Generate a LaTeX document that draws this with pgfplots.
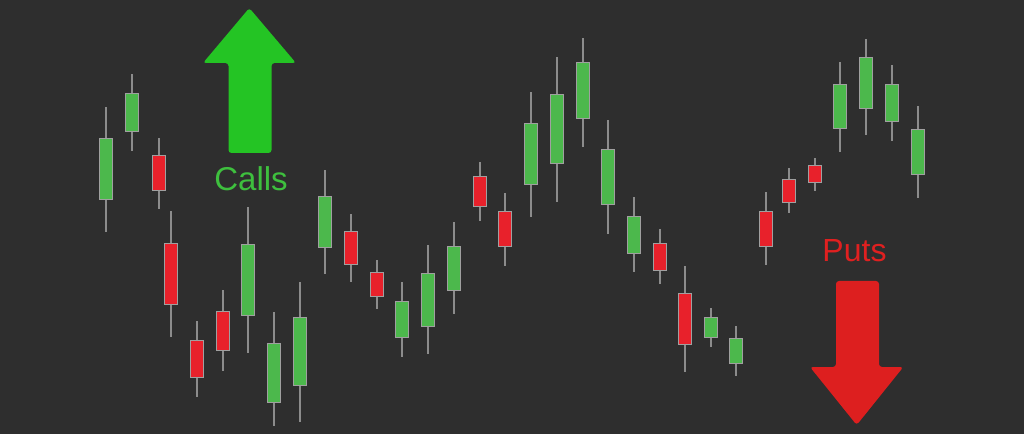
\documentclass[border=0pt]{standalone}
\usepackage{pgfplots}
\usepackage{pgfplotstable}
\pgfplotsset{compat=1.18}
\usepackage{fontspec}
\setmainfont{Liberation Sans}
\definecolor{bg}{HTML}{2E2E2E}
\definecolor{wick}{HTML}{8C8C8C}
\definecolor{border}{HTML}{A0A0A0}
\definecolor{upc}{HTML}{4CB84C}
\definecolor{dnc}{HTML}{E8212B}
\definecolor{callarrow}{HTML}{24C424}
\definecolor{calltext}{HTML}{3EC03E}
\definecolor{putarrow}{HTML}{DD1F1F}
\definecolor{puttext}{HTML}{E02020}

\pgfplotstableread{
x     wl     wh     bl     bh
106   202.3  327.3  234.7  294.7
132   283    360    303    340
248   81.3   227.3  119.3  189
273.7 8.3    121.7  32.3   90
299.7 11.7   152.3  49     115.7
325   160    264    186.7  236.7
402.3 77.3   152.3  97.3   132.3
428.3 79.7   189    108    160
454   119.7  212.3  144    187.3
531   217.3  342.3  250    309.7
556.7 232.3  377.3  270.7  339
582.7 286.7  395.7  316.3  370.7
608.3 200    314    230    284
634   162.3  237    181.3  217.3
710.7 87.3   126.3  97.3   115.7
736   58.3   108.3  71.3   95
840   282.3  372.3  305.7  349
866   299    395    326.3  375.7
891.7 293.3  369    313.3  349
917.7 235.7  328    260    304
}\upt

\pgfplotstableread{
x     wl     wh     bl     bh
158.7 225    296.3  244    277.7
170.7 96.7   223.3  130    190
197.3 36.7   113    57.3   93.3
223.3 63     143.7  84     122.3
351   152.3  219.7  170    202
376.7 125    174    138.3  160.7
480   213    272.3  228.3  256.7
505   168.3  241.3  188    222.3
660   150    204.7  164    190
685   61.7   168    89.7   140
765.7 169    241.7  188    222.3
788.7 220.7  266.3  232.3  254
814.7 243.3  276.3  251.7  268
}\dnt

\pgfplotsset{
  wickplot/.style={draw=none, mark=none, forget plot,
    error bars/.cd, y dir=both, y explicit, error mark=none,
    error bar style={draw=wick, line width=2pt}},
  borderplot/.style={draw=none, mark=none, forget plot,
    error bars/.cd, y dir=both, y explicit, error mark=none,
    error bar style={draw=border, line width=14pt}},
  bodyplot/.style={draw=none, mark=none, forget plot,
    error bars/.cd, y dir=both, y explicit, error mark=none,
    error bar style={draw=#1, line width=12pt}},
}

\begin{document}
\begin{tikzpicture}
\fill[bg] (0,0) rectangle (1024pt,434pt);
\begin{axis}[
  at={(0,0)}, anchor=south west,
  scale only axis, width=1024pt, height=434pt,
  xmin=0, xmax=1024, ymin=0, ymax=434,
  hide axis, clip=false,
]
% wicks
\addplot[wickplot] table[x=x, y expr=(\thisrow{wl}+\thisrow{wh})/2,
        y error expr=(\thisrow{wh}-\thisrow{wl})/2] {\upt};
\addplot[wickplot] table[x=x, y expr=(\thisrow{wl}+\thisrow{wh})/2,
        y error expr=(\thisrow{wh}-\thisrow{wl})/2] {\dnt};
% body borders
\addplot[borderplot] table[x=x, y expr=(\thisrow{bl}+\thisrow{bh})/2,
        y error expr=(\thisrow{bh}-\thisrow{bl})/2+1] {\upt};
\addplot[borderplot] table[x=x, y expr=(\thisrow{bl}+\thisrow{bh})/2,
        y error expr=(\thisrow{bh}-\thisrow{bl})/2+1] {\dnt};
% bodies
\addplot[bodyplot=upc] table[x=x, y expr=(\thisrow{bl}+\thisrow{bh})/2,
        y error expr=(\thisrow{bh}-\thisrow{bl})/2] {\upt};
\addplot[bodyplot=dnc] table[x=x, y expr=(\thisrow{bl}+\thisrow{bh})/2,
        y error expr=(\thisrow{bh}-\thisrow{bl})/2] {\dnt};

% arrows
\fill[callarrow, rounded corners=3pt]
  (axis cs:228.5,281) -- (axis cs:228.5,371) -- (axis cs:203,371)
  -- (axis cs:249.3,426) -- (axis cs:296,371) -- (axis cs:271.5,371)
  -- (axis cs:271.5,281) -- cycle;
\fill[putarrow, rounded corners=3pt]
  (axis cs:836,153) -- (axis cs:836,67) -- (axis cs:810,67)
  -- (axis cs:856.7,9) -- (axis cs:903.3,67) -- (axis cs:879,67)
  -- (axis cs:879,153) -- cycle;
\node[anchor=base, text=calltext, font=\fontsize{33}{36}\selectfont, inner sep=0pt]
  at (axis cs:251,243) {Calls};
\node[anchor=base, text=puttext, font=\fontsize{32}{35}\selectfont, inner sep=0pt]
  at (axis cs:854.5,172) {Puts};
\end{axis}
\end{tikzpicture}
\end{document}
